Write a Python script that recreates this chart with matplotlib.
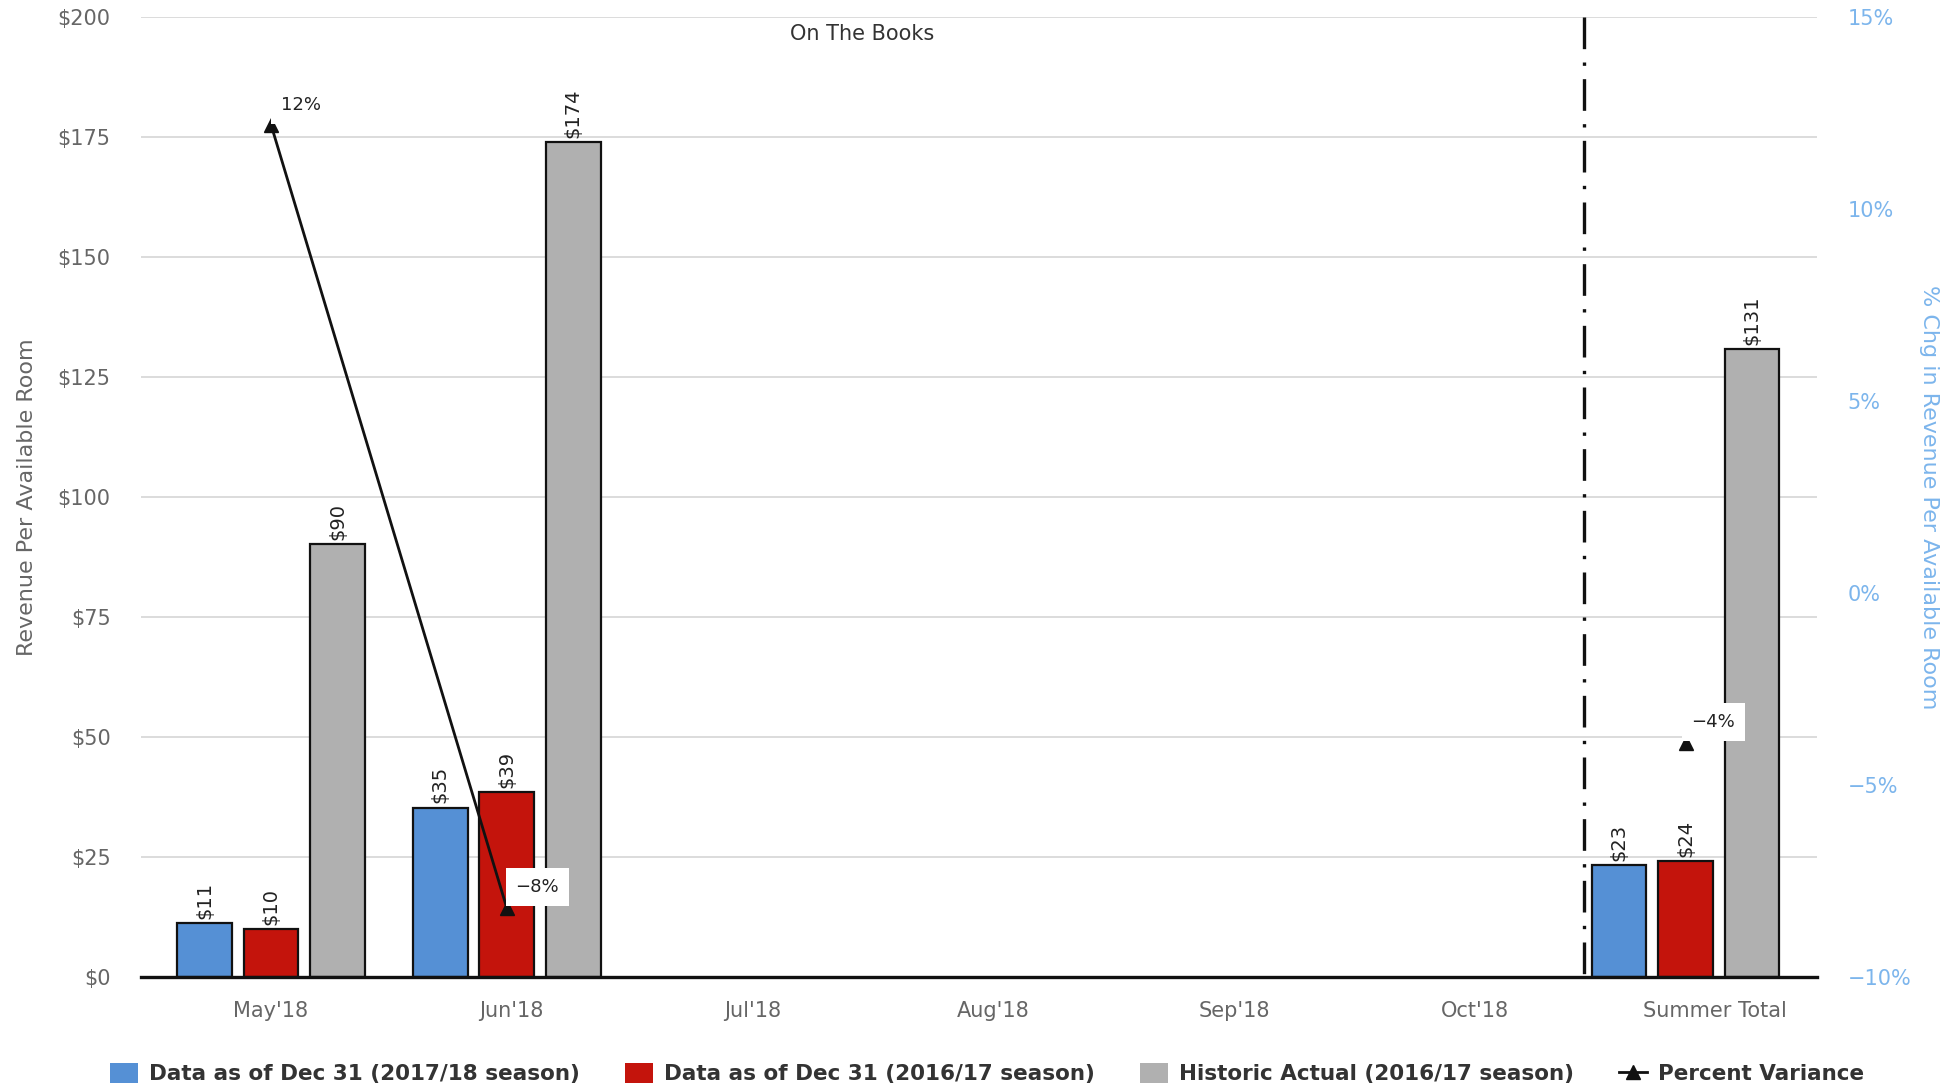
import matplotlib
matplotlib.use("Agg")
import matplotlib.pyplot as plt
import matplotlib.patches as mpatches
from matplotlib.lines import Line2D
from matplotlib.ticker import FuncFormatter
import numpy as np

plt.rcParams.update({
    "font.family": ["DejaVu Sans"],
    "font.size": 12,
})

categories = ["May'18", "Jun'18", "Jul'18", "Aug'18", "Sep'18", "Oct'18", "Summer Total"]
otb_2018 = [11.2, 35.3, np.nan, np.nan, np.nan, np.nan, 23.3]
otb_2017 = [9.9, 38.6, np.nan, np.nan, np.nan, np.nan, 24.1]
historic_2017 = [90.1, 173.9, np.nan, np.nan, np.nan, np.nan, 130.8]
pct_variance = [12.2, -8.2, np.nan, np.nan, np.nan, np.nan, -3.9]

series_names = [
    "Data as of Dec 31 (2017/18 season)",
    "Data as of Dec 31 (2016/17 season)",
    "Historic Actual (2016/17 season)",
]
series_colors = ["#5590d5", "#c4140c", "#b0b0b0"]
label_gray = "#666666"
right_blue = "#7cb5ec"

fig = plt.figure(figsize=(19.51, 10.89), dpi=100)
ax = fig.add_axes([0.0723, 0.1029, 0.8590, 0.8815])

x = np.arange(len(categories))
bar_w = 0.232
offsets = [-0.282, 0.0, 0.282]
for vals, off, col, name in zip((otb_2018, otb_2017, historic_2017), offsets, series_colors, series_names):
    ax.bar(x + off, vals, width=bar_w, color=col, edgecolor="#111111",
           linewidth=1.6, label=name, zorder=3)
    for xi, v in zip(x + off, vals):
        if np.isnan(v):
            continue
        ax.annotate(f"${v:.0f}", (xi, v), xytext=(0, 3), textcoords="offset points",
                    rotation=90, ha="center", va="bottom", fontsize=14, color="#222222")

ax.set_xlim(-0.551, 6.557)
ax.set_ylim(0, 200)
ax.set_yticks(np.arange(0, 201, 25))
ax.yaxis.set_major_formatter(FuncFormatter(lambda v, _: f"${v:.0f}"))
ax.set_xticks(x * 1.021)
ax.set_xticklabels(categories)
ax.tick_params(axis="both", length=0, labelsize=15, labelcolor=label_gray)
ax.tick_params(axis="x", pad=17)
ax.tick_params(axis="y", pad=22)
ax.grid(axis="y", color="#d6d6d6", linewidth=1.2, zorder=0)
ax.set_axisbelow(True)
for side in ("left", "right", "top"):
    ax.spines[side].set_visible(False)
ax.spines["bottom"].set_linewidth(2.4)
ax.spines["bottom"].set_color("#111111")
ax.spines["bottom"].set_zorder(5)
ax.set_ylabel("Revenue Per Available Room", fontsize=16, color=label_gray, labelpad=15)

# divider between months and total, drawn top-down so the dash pattern starts at the top
ax.axvline(5.57, ymin=1, ymax=0, color="#111111", linewidth=2.4,
           linestyle=(0, (9.5, 4.0, 1, 4.0)), zorder=4)
ax.text(2.507, 196.5, "On The Books", ha="center", va="center", fontsize=15, color="#333333")

ax2 = ax.twinx()
ax2.set_ylim(-10, 15)
ax2.set_yticks(np.arange(-10, 16, 5))
ax2.yaxis.set_major_formatter(FuncFormatter(lambda v, _: f"{v:.0f}%".replace("-", "\u2212")))
ax2.tick_params(axis="y", length=0, labelsize=15, labelcolor=right_blue, pad=22)
for side in ("left", "right", "top", "bottom"):
    ax2.spines[side].set_visible(False)
ax2.set_ylabel("% Chg in Revenue Per Available Room", fontsize=16, color=right_blue,
               rotation=270, labelpad=20)

ax2.plot(x, pct_variance, color="#111111", linewidth=2.0, marker="^", markersize=10, zorder=6)
label_offsets = [(7, 14), (22, 15), (20, 15)]
k = 0
for xi, v in zip(x, pct_variance):
    if np.isnan(v):
        continue
    dx, dy = label_offsets[k]
    k += 1
    ax2.annotate(f"{v:.0f}%".replace("-", "\u2212"), (xi, v), xytext=(dx, dy),
                 textcoords="offset points", ha="left" if k == 1 else "center", va="center",
                 fontsize=13, color="#222222",
                 bbox=dict(boxstyle="square,pad=0.55", fc="white", ec="none"), zorder=7)

handles = [mpatches.Patch(facecolor=c, edgecolor="none", label=n)
           for c, n in zip(series_colors, series_names)]
handles.append(Line2D([], [], color="#111111", marker="^", markersize=10, linewidth=2.0,
                      label="Percent Variance"))
fig.legend(handles=handles, loc="center", bbox_to_anchor=(0.506, 0.0138), ncol=4,
           frameon=False, prop={"size": 15.5, "weight": "bold"}, labelcolor="#333333",
           handlelength=1.3, handleheight=1.0, handletextpad=0.5, columnspacing=2.1)

fig.savefig("out.png", dpi=100)
